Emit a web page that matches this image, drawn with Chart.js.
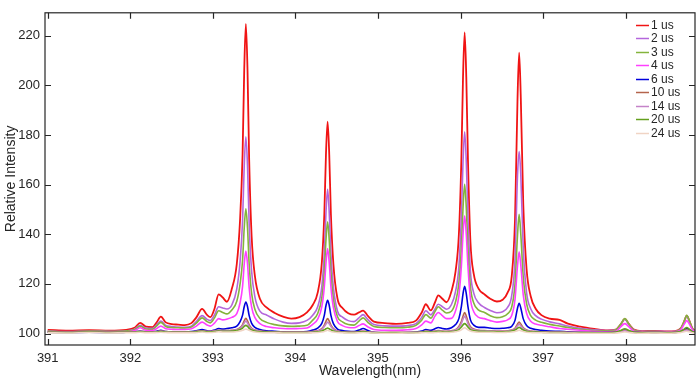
<!DOCTYPE html>
<html>
<head>
<meta charset="utf-8">
<script src="https://cdn.jsdelivr.net/npm/chart.js@4.4.1/dist/chart.umd.min.js"></script>
<style>
html,body{margin:0;padding:0;background:#fff;}
#wrap{width:700px;height:383px;}
</style>
</head>
<body>
<div id="wrap"><canvas id="c" width="700" height="383"></canvas></div>
<script>
// ---- data ----
const wavelength = [
391.00,391.25,391.5,391.75,391.95,392.05,392.12,392.19,392.27,392.32,
392.37,392.43,392.5,392.58,392.66,392.74,392.80,392.87,392.93,392.97,
393.02,393.07,393.12,393.17,393.23,393.29,393.33,393.36,393.38,393.40,
393.42,393.44,393.47,393.51,393.57,393.65,393.75,393.85,393.95,394.05,
394.14,394.21,394.27,394.32,394.35,394.37,394.39,394.41,394.43,394.46,
394.51,394.57,394.64,394.71,394.77,394.82,394.88,394.95,395.08,395.22,
395.36,395.46,395.53,395.58,395.64,395.69,395.73,395.78,395.83,395.89,
395.94,395.98,396.01,396.03,396.05,396.07,396.09,396.12,396.16,396.22,
396.29,396.36,396.44,396.51,396.57,396.62,396.66,396.69,396.71,396.73,
396.76,396.80,396.85,396.91,396.98,397.08,397.20,397.30,397.45,397.62,
397.78,397.88,397.94,397.99,398.04,398.10,398.20,398.35,398.50,398.60,
398.67,398.71,398.74,398.77,398.81,398.84];

const us1 = [
101.5,101.2,101.4,101.2,101.5,102.3,104.3,102.8,102.6,104.5,
106.8,104.5,103.8,103.6,103.4,104.2,106.5,109.9,107.5,106.6,
110,115.8,114.5,112.8,118,128,146,172,206,224.7,
206,170,139,123,114,110.5,108.3,106.8,106,106.6,
108.5,111.5,116.5,128.5,148,172,185.4,172,148,128,
114,110.3,108.2,107.6,108.5,109.2,107,104.8,104.2,103.9,
104.3,105.2,108.5,111.8,109.3,112.5,115.4,114,112.6,117,
125,140,170,203,221.3,203,170,137,124,118,
115.8,114,112.9,113.6,116.5,123,146,194,213.1,195,
152,126,115,110,107.4,106,105.5,104,102.8,101.9,
101.3,101.6,103.6,105.9,103.8,101.6,101,101.1,100.9,101,
102.2,105,107.2,105.3,102,101.2];

const us2 = [
101,100.8,101,100.9,101.1,101.7,103.3,102.2,102.1,103.6,
105,103.3,102.8,102.6,102.5,103,104.8,107.2,105.7,105.2,
107.5,110.8,110.3,109.9,111.5,118,129,145.5,167.5,179.2,
167.5,144,125,114.7,109,107.5,105.8,104.6,104.1,104.3,
105.3,107.4,110.8,119,132.4,148.5,158.1,148.5,132.4,118.7,
109,106.6,105.2,104.8,106.3,107.6,105.5,103.6,103.1,103,
103.2,104,106.5,109.2,107.5,109.8,111.8,110.8,109.8,111.7,
117,127,147,169,181.3,169,147,125,116.3,112.3,
110.5,109.3,108.4,108.8,110.5,115.3,130,163.5,173.3,164,
134,116.5,110,107.2,105.8,104.7,103.9,103,102.1,101.5,
101.2,101.5,103.6,105.8,103.6,101.4,100.9,100.9,100.8,100.9,
102,104.8,107,105,101.8,101];

const us3 = [
100.9,100.7,100.9,100.8,101,101.5,103,101.8,101.7,103.1,
104.5,102.8,102.4,102.3,102.2,102.6,104.2,106.3,104.8,104.3,
106.3,109.2,108.5,107.9,109.5,113,120,129.5,142.5,150.2,
142.5,128,116.1,109.7,106.1,104.5,103.6,103.1,102.9,103,
103.3,105.4,108.1,114.5,125,137.5,145,137.5,125,114.2,
106.8,104.7,103.6,103.4,105,106.3,104.4,102.8,102.4,102.3,
102.5,103.3,105.4,107.6,106.2,108.8,110.8,109.4,108.3,109,
112.8,120.3,134.5,150.5,160.1,150.5,134.5,118.8,112.3,109.4,
108.5,107.2,106.4,106.8,108,110.7,120,139.5,148,140,
122.5,112,107.2,105.4,104.5,103.7,103,102.4,101.7,101.2,
101,101.4,103.8,106,103.8,101.3,100.7,100.8,100.6,100.7,
102.1,105,107.3,105.3,101.9,100.9];

const us4 = [
100.7,100.5,100.7,100.6,100.7,101.1,102.3,101.3,101.2,102,
103,101.9,101.7,101.6,101.6,101.9,103,104.6,103.4,103,
104.2,106,105.5,105.8,106.5,108,112.4,119,128,133.2,
128,118.5,110.6,106.4,104,102.8,102.3,102,101.9,102,
102.2,103.7,105.8,110.8,118.8,128.2,134.2,128.4,118.8,110.5,
104.8,103.2,102.4,102.3,103.2,103.9,102.6,101.6,101.3,101.3,
101.5,102,103.5,105,104.3,107,108.5,107.2,106,106.1,
109.2,115.2,127,139.8,147.4,139.8,127,114,108.8,106.5,
106,105.2,104.6,104.9,105.5,107.3,113.8,127.2,132.9,127.5,
115.5,108.2,104.9,103.8,103.3,102.7,102,101.7,101.3,100.9,
100.7,100.9,102.7,104,102.7,100.9,100.5,100.6,100.5,100.6,
101.6,103.8,105.2,103.9,101.4,100.7];

const us6 = [
100.5,100.4,100.5,100.4,100.5,100.6,101,100.6,100.6,100.9,
101.3,100.8,100.7,100.7,100.7,100.8,101.1,101.6,101.1,101,
101.4,102,101.8,102,102.3,103,104.8,107.4,110.8,112.7,
110.8,107.2,104.1,102.5,101.6,101.1,100.9,100.7,100.6,100.6,
100.8,101.4,102.2,104.1,107.3,111.2,113.4,111.3,107.3,104,
101.8,101.2,100.9,100.8,101.4,102,101.2,100.5,100.3,100.3,
100.4,100.6,101,101.6,101.3,101.9,102.4,102,101.8,102.3,
103.6,106,110.8,116,119,116,110.8,105.5,103.4,102.5,
102.5,102.2,102,102.1,102.3,102.9,105.3,110.2,112.2,110.3,
105.9,103.2,102.1,101.6,101.3,101,100.9,100.7,100.5,100.4,
100.4,100.5,101,101.4,101,100.5,100.3,100.4,100.3,100.4,
100.8,101.6,102,101.6,100.7,100.4];

const us10 = [
100.7,100.6,100.8,100.6,100.7,100.7,100.9,100.7,100.7,100.8,
101,100.8,100.7,100.7,100.7,100.7,100.9,101.1,100.9,100.9,
101.1,101.3,101.2,101.2,101.3,101.6,102.4,103.6,105.1,106.1,
105.1,103.5,102.1,101.4,101,100.8,100.7,100.6,100.6,100.6,
100.6,100.8,101.1,102,103.4,104.9,106,105,103.4,102,
101,100.7,100.6,100.6,100.8,101,100.7,100.5,100.4,100.5,
100.5,100.5,100.7,100.9,100.8,101,101.2,101,100.9,101.1,
101.6,102.9,104.8,107,108.5,107,104.8,102.7,101.8,101.3,
101.2,101.1,101,101,101.1,101.4,102.1,103.8,104.6,103.8,
102.3,101.4,101,100.8,100.7,100.6,100.6,100.5,100.5,100.4,
100.4,100.5,100.9,101.2,100.9,100.5,100.4,100.5,100.4,100.5,
100.8,101.2,101.5,101.2,100.6,100.5];

const us14 = [
100.6,100.5,100.7,100.5,100.6,100.6,100.8,100.6,100.6,100.7,
100.9,100.7,100.6,100.6,100.6,100.6,100.8,101,100.8,100.8,
101,101.2,101.1,101.1,101.2,101.5,102.1,103.1,104.2,105,
104.2,103,101.9,101.3,100.9,100.7,100.6,100.5,100.5,100.5,
100.5,100.7,101,101.7,102.8,103.8,104.6,103.9,102.8,101.7,
100.9,100.6,100.5,100.5,100.7,100.9,100.6,100.4,100.4,100.4,
100.4,100.5,100.6,100.8,100.7,100.9,101.1,100.9,100.8,101,
101.4,102.4,104,105.8,107,105.8,104,102.3,101.5,101.2,
101.1,101,100.9,100.9,101,101.3,101.8,103.1,103.8,103.1,
102,101.2,100.9,100.7,100.6,100.5,100.5,100.4,100.4,100.4,
100.3,100.4,100.8,101.1,100.8,100.4,100.3,100.4,100.3,100.4,
100.7,101.1,101.3,101.1,100.5,100.4];

const us20 = [
100.5,100.4,100.6,100.4,100.5,100.5,100.7,100.5,100.5,100.6,
100.8,100.6,100.5,100.5,100.5,100.5,100.7,100.9,100.7,100.7,
100.8,101,100.9,100.9,101,101.2,101.6,102.2,102.9,103.3,
102.9,102.1,101.4,101,100.7,100.6,100.5,100.4,100.4,100.4,
100.4,100.5,100.7,101,101.5,101.9,102.2,101.9,101.5,101,
100.6,100.5,100.4,100.4,100.6,100.7,100.5,100.3,100.3,100.3,
100.3,100.4,100.5,100.7,100.6,100.7,100.9,100.7,100.6,100.8,
101,101.6,102.6,103.5,104,103.5,102.6,101.6,101.1,100.9,
100.9,100.8,100.7,100.7,100.8,101,101.4,102.1,102.5,102.1,
101.4,100.9,100.7,100.6,100.5,100.4,100.4,100.3,100.3,100.3,
100.3,100.5,101.2,101.9,101.2,100.5,100.3,100.4,100.3,100.4,
100.9,101.8,102.4,101.8,100.7,100.4];

const us24 = [
100.3,100.2,100.4,100.2,100.3,100.3,100.5,100.3,100.3,100.4,
100.5,100.4,100.3,100.3,100.3,100.3,100.4,100.6,100.4,100.4,
100.5,100.7,100.6,100.6,100.6,100.8,101,101.3,101.6,101.8,
101.6,101.3,100.9,100.6,100.4,100.3,100.3,100.2,100.2,100.2,
100.2,100.3,100.4,100.6,100.8,101.1,101.3,101.1,100.8,100.6,
100.4,100.3,100.2,100.2,100.3,100.4,100.3,100.2,100.1,100.1,
100.2,100.2,100.3,100.4,100.3,100.4,100.5,100.4,100.4,100.5,
100.7,101,101.5,102,102.3,102,101.5,101,100.7,100.5,
100.5,100.5,100.4,100.4,100.5,100.6,100.8,101.1,101.3,101.1,
100.8,100.5,100.4,100.3,100.3,100.2,100.2,100.2,100.1,100.1,
100.1,100.2,100.4,100.6,100.4,100.2,100.1,100.2,100.1,100.2,
100.4,100.7,100.9,100.7,100.3,100.2];

const seriesLabels = ['1 us','2 us','3 us','4 us','6 us','10 us','14 us','20 us','24 us'];
const seriesValues = [us1, us2, us3, us4, us6, us10, us14, us20, us24];
const seriesColors = ['#f01414','#b466dc','#84b43c','#ff40ff','#0000dc','#b4644c','#c483c8','#64a01e','#f0d4c4'];
const xTicks = [391,392,393,394,395,396,397,398];
const yTicks = [100,120,140,160,180,200,220];

// ---- chart ----
const FONT = "'Liberation Sans', Arial, Helvetica, sans-serif";
const TXT = '#262626';

const datasets = seriesValues.map((vals, i) => ({
  label: seriesLabels[i],
  data: wavelength.map((x, k) => ({x: x, y: vals[k]})),
  borderColor: seriesColors[i],
  backgroundColor: seriesColors[i],
  borderWidth: i === 0 ? 1.8 : 1.6,
  pointRadius: 0,
  fill: false,
  cubicInterpolationMode: 'monotone',
  order: -i
}));

const framePlugin = {
  id: 'frame',
  afterDatasetsDraw(chart) {
    const {ctx, chartArea: a, scales} = chart;
    const xs = scales.x, ys = scales.y;
    ctx.save();
    ctx.strokeStyle = TXT;
    ctx.lineWidth = 1.2;
    ctx.strokeRect(a.left, a.top, a.right - a.left, a.bottom - a.top);
    ctx.beginPath();
    const tl = 6;
    xTicks.forEach(v => {
      const p = Math.round(xs.getPixelForValue(v)) + 0.5;
      ctx.moveTo(p, a.bottom); ctx.lineTo(p, a.bottom - tl);
      ctx.moveTo(p, a.top); ctx.lineTo(p, a.top + tl);
    });
    yTicks.forEach(v => {
      const p = Math.round(ys.getPixelForValue(v)) + 0.5;
      ctx.moveTo(a.left, p); ctx.lineTo(a.left + tl, p);
      ctx.moveTo(a.right, p); ctx.lineTo(a.right - tl, p);
    });
    ctx.stroke();

    // legend
    const lx0 = 636, lx1 = 649, tx = 651, y0 = 25, dy = 13.45;
    ctx.font = '12px ' + FONT;
    ctx.textBaseline = 'middle';
    ctx.textAlign = 'left';
    seriesLabels.forEach((lab, i) => {
      const y = Math.round(y0 + dy * i) + 0.5;
      ctx.strokeStyle = seriesColors[i];
      ctx.lineWidth = 1.5;
      ctx.beginPath(); ctx.moveTo(lx0, y); ctx.lineTo(lx1, y); ctx.stroke();
      ctx.fillStyle = TXT;
      ctx.fillText(lab, tx, y);
    });
    ctx.restore();
  }
};

new Chart(document.getElementById('c'), {
  type: 'line',
  data: { datasets },
  options: {
    responsive: false,
    devicePixelRatio: 1,
    animation: false,
    events: [],
    layout: { padding: { left: 0, right: 5, top: 6, bottom: 0 } },
    plugins: { legend: { display: false }, tooltip: { enabled: false } },
    scales: {
      x: {
        type: 'linear',
        min: 390.967, max: 398.84,
        grid: { display: false, drawTicks: false },
        border: { display: false },
        afterBuildTicks: s => { s.ticks = xTicks.map(v => ({value: v})); },
        afterFit: s => { s.height = 38; },
        ticks: { color: TXT, font: { family: FONT, size: 13 }, padding: 6, maxRotation: 0,
                 callback: v => String(v) },
        title: { display: true, text: 'Wavelength(nm)', color: TXT,
                 font: { family: FONT, size: 14 }, padding: { top: 0, bottom: 3 } }
      },
      y: {
        type: 'linear',
        min: 95.38, max: 229.2,
        grid: { display: false, drawTicks: false },
        border: { display: false },
        afterBuildTicks: s => { s.ticks = yTicks.map(v => ({value: v})); },
        afterFit: s => { s.width = 45; },
        ticks: { color: TXT, font: { family: FONT, size: 13 }, padding: 5,
                 callback: v => String(v) },
        title: { display: true, text: 'Relative Intensity', color: TXT,
                 font: { family: FONT, size: 14 }, padding: { top: 3, bottom: 0 } }
      }
    }
  },
  plugins: [framePlugin]
});
</script>
</body>
</html>
